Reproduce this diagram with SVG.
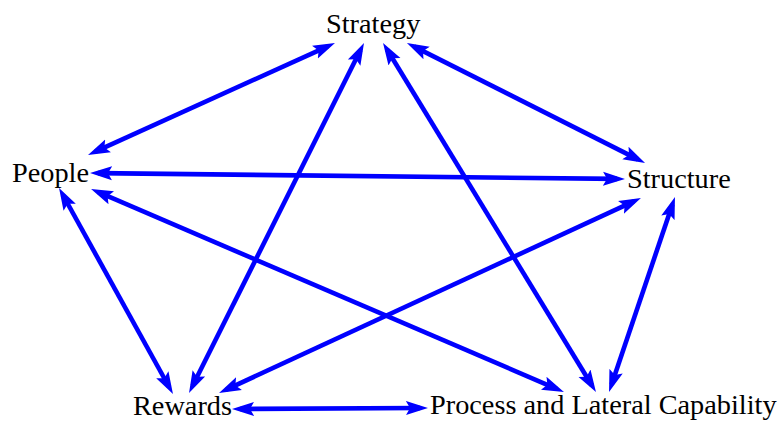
<svg xmlns="http://www.w3.org/2000/svg" width="782" height="421" viewBox="0 0 782 421">
  <style>
    .lbl { font-family: "Liberation Serif", "Times New Roman", serif; font-size: 28.3px; fill: #000; }
    .edge { stroke: #0000FF; stroke-width: 4.6; fill: none; stroke-linecap: butt; marker-start: url(#ah); marker-end: url(#ah); }
  </style>
  <defs>
    <marker id="ah" markerUnits="userSpaceOnUse" markerWidth="24" markerHeight="16" viewBox="0 0 24 16" refX="14" refY="8" orient="auto-start-reverse">
      <path d="M0,1 L22,8 L0,15 L4,8 Z" fill="#0000FF"/>
    </marker>
  </defs>
  <rect width="782" height="421" fill="#fff"/>
  <g id="connectors">
    <line class="edge" x1="327.7" y1="46.3" x2="95.3" y2="151.7"/>
    <line class="edge" x1="360.4" y1="50.2" x2="192.6" y2="385.8"/>
    <line class="edge" x1="387.2" y1="49.8" x2="591.8" y2="385.2"/>
    <line class="edge" x1="414.1" y1="46.6" x2="637.9" y2="159.4"/>
    <line class="edge" x1="98" y1="173.1" x2="617" y2="178.9"/>
    <line class="edge" x1="62.9" y1="195" x2="169.1" y2="387"/>
    <line class="edge" x1="98.4" y1="192.2" x2="556.6" y2="388.8"/>
    <line class="edge" x1="633.7" y1="201.4" x2="226.3" y2="389.6"/>
    <line class="edge" x1="672.4" y1="204.6" x2="611.6" y2="384.4"/>
    <line class="edge" x1="240" y1="409" x2="420" y2="408"/>
  </g>
  <g id="strategy"><text class="lbl" x="326" y="33">Strategy</text></g>
  <g id="people"><text class="lbl" x="12" y="182">People</text></g>
  <g id="structure"><text class="lbl" x="627" y="188">Structure</text></g>
  <g id="rewards"><text class="lbl" x="133" y="414.5">Rewards</text></g>
  <g id="process"><text class="lbl" x="430" y="414">Process and Lateral Capability</text></g>
</svg>
